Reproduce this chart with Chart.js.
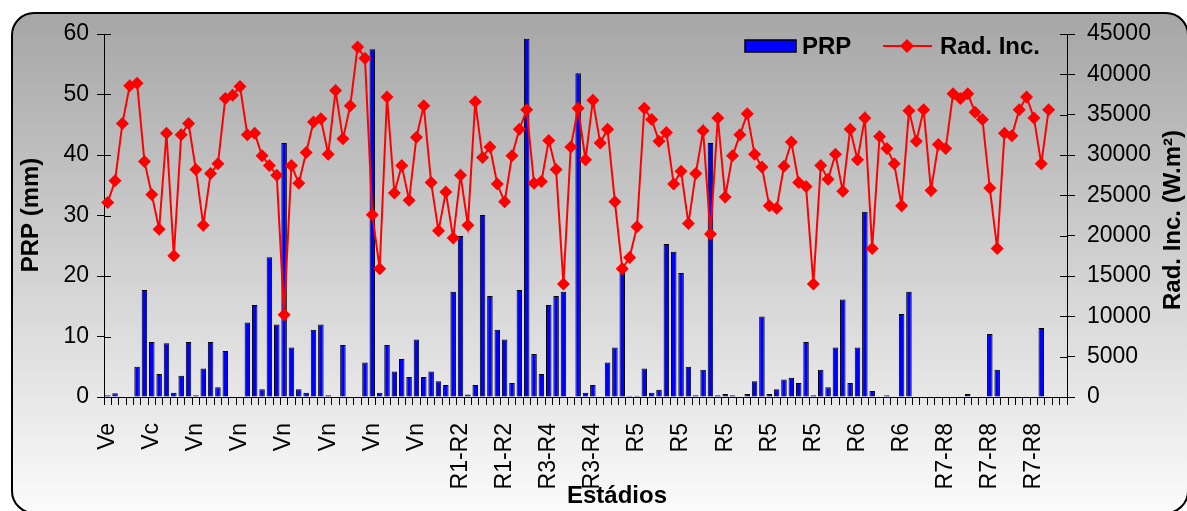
<!DOCTYPE html>
<html>
<head>
<meta charset="utf-8">
<script src="https://cdn.jsdelivr.net/npm/chart.js@4.4.1/dist/chart.umd.min.js"></script>
<style>
    html, body { margin: 0; padding: 0; background: #fff; }
    #wrap { width: 1187px; height: 511px; }
</style>
</head>
<body>
<div id="wrap"><canvas id="prp-chart" width="1187" height="511"></canvas></div>
<script>
// Stage names shown every 6th day on the category axis
const stageTicks = ['Ve', 'Vc', 'Vn', 'Vn', 'Vn', 'Vn', 'Vn', 'Vn', 'R1-R2', 'R1-R2', 'R3-R4', 'R3-R4',
    'R5', 'R5', 'R5', 'R5', 'R5', 'R6', 'R6', 'R7-R8', 'R7-R8', 'R7-R8'];
const dayCount = 131;
const tickEvery = 6;

// Precipitation (mm)
const prp = [
    0.3, 0.6, 0, 0, 5.0, 17.7, 9.1, 3.8, 8.9, 0.7,
    3.5, 9.1, 0.3, 4.7, 9.1, 1.6, 7.6, 0, 0, 12.3,
    15.2, 1.3, 23.1, 12.0, 42.0, 8.2, 1.3, 0.7, 11.1, 12.0,
    0.3, 0, 8.6, 0, 0, 5.7, 57.5, 0.7, 8.6, 4.2,
    6.3, 3.3, 9.5, 3.3, 4.2, 2.6, 2.0, 17.4, 26.6, 0.4,
    2.0, 30.1, 16.7, 11.1, 9.5, 2.3, 17.7, 59.2, 7.1, 3.8,
    15.2, 16.7, 17.4, 0, 53.5, 0.7, 2.0, 0, 5.7, 8.2,
    21.0, 0.2, 0.2, 4.7, 0.7, 1.2, 25.3, 24.0, 20.5, 5.0,
    0.3, 4.5, 42.0, 0.3, 0.5, 0.3, 0, 0.5, 2.6, 13.3,
    0.5, 1.3, 2.9, 3.2, 2.3, 9.1, 0.3, 4.5, 1.6, 8.2,
    16.1, 2.3, 8.2, 30.6, 1.0, 0, 0.3, 0, 13.7, 17.4,
    0, 0, 0, 0, 0, 0, 0, 0.5, 0, 0,
    10.4, 4.5, 0, 0, 0, 0, 0, 11.4, 0
];

// Incident radiation (W.m2)
const radInc = [
    24100, 26800, 33900, 38600, 38900, 29200, 25100, 20800, 32700, 17500,
    32500, 33900, 28200, 21300, 27700, 28900, 37000, 37400, 38500, 32500,
    32700, 29900, 28700, 27500, 10200, 28700, 26500, 30300, 34100, 34500,
    30100, 38000, 32000, 36100, 43400, 42000, 22600, 15900, 37200, 25300,
    28700, 24400, 32200, 36100, 26600, 20600, 25400, 19700, 27500, 21300,
    36600, 29700, 31000, 26400, 24200, 29900, 33200, 35600, 26500, 26700,
    31800, 28200, 14000, 31000, 35800, 29400, 36800, 31500, 33200, 24200,
    15900, 17300, 21100, 35800, 34400, 31700, 32800, 26400, 28000, 21500,
    27700, 33000, 20200, 34600, 24800, 29900, 32500, 35100, 30100, 28500,
    23700, 23400, 28600, 31600, 26600, 26100, 14000, 28700, 27000, 30100,
    25500, 33200, 29400, 34600, 18400, 32300, 30800, 28900, 23700, 35500,
    31700, 35600, 25600, 31300, 30800, 37600, 37000, 37600, 35300, 34400,
    25900, 18400, 32700, 32400, 35600, 37200, 34600, 28900, 35600
];

const FONT = "'Liberation Sans', Arial, sans-serif";

const days = [];
for (let i = 0; i < dayCount; i++) {
    days.push(i % tickEvery === 0 ? stageTicks[i / tickEvery] : '');
}

// rounded frame with the grey fade behind everything
const framePlugin = {
    id: 'frame',
    beforeDraw(chart) {
        const ctx = chart.ctx;
        ctx.save();
        ctx.fillStyle = '#ffffff';
        ctx.fillRect(0, 0, chart.width, chart.height);
        const x = 12, y = 13, w = 1176, h = 500, r = 22;
        const grad = ctx.createLinearGradient(0, y, 0, y + h);
        grad.addColorStop(0, '#a6a6a6');
        grad.addColorStop(1, '#fbfbfb');
        ctx.beginPath();
        ctx.moveTo(x + r, y);
        ctx.lineTo(x + w - r, y);
        ctx.arcTo(x + w, y, x + w, y + r, r);
        ctx.lineTo(x + w, y + h - r);
        ctx.arcTo(x + w, y + h, x + w - r, y + h, r);
        ctx.lineTo(x + r, y + h);
        ctx.arcTo(x, y + h, x, y + h - r, r);
        ctx.lineTo(x, y + r);
        ctx.arcTo(x, y, x + r, y, r);
        ctx.closePath();
        ctx.fillStyle = grad;
        ctx.fill();
        ctx.lineWidth = 2;
        ctx.strokeStyle = '#000';
        ctx.stroke();
        ctx.restore();
    }
};

// axis titles, inner tick marks and the legend
const decorPlugin = {
    id: 'decor',
    afterDatasetsDraw(chart) {
        const ctx = chart.ctx;
        const area = chart.chartArea;
        ctx.save();
        ctx.strokeStyle = '#000';
        ctx.lineWidth = 1;
        chart.scales.y.ticks.forEach((t, i) => {
            const py = Math.round(chart.scales.y.getPixelForTick(i)) + 0.5;
            ctx.beginPath();
            ctx.moveTo(area.left, py);
            ctx.lineTo(area.left + 7, py);
            ctx.stroke();
        });
        chart.scales.y1.ticks.forEach((t, i) => {
            const py = Math.round(chart.scales.y1.getPixelForTick(i)) + 0.5;
            ctx.beginPath();
            ctx.moveTo(area.right - 7, py);
            ctx.lineTo(area.right, py);
            ctx.stroke();
        });

        ctx.fillStyle = '#000';
        ctx.font = 'bold 24px ' + FONT;
        ctx.textAlign = 'center';
        ctx.textBaseline = 'middle';
        ctx.fillText('Estádios', 617, 496);

        ctx.save();
        ctx.translate(31, 215);
        ctx.rotate(-Math.PI / 2);
        ctx.fillText('PRP (mm)', 0, 0);
        ctx.restore();

        ctx.save();
        ctx.translate(1173, 220);
        ctx.rotate(-Math.PI / 2);
        ctx.fillText('Rad. Inc. (W.m²)', 0, 0);
        ctx.restore();

        // legend
        ctx.fillStyle = '#0000ff';
        ctx.fillRect(745, 40, 51, 12);
        ctx.lineWidth = 1.5;
        ctx.strokeRect(745, 40, 51, 12);
        ctx.fillStyle = '#000';
        ctx.textAlign = 'left';
        ctx.fillText('PRP', 802, 47);

        ctx.strokeStyle = '#ff0000';
        ctx.lineWidth = 2;
        ctx.beginPath();
        ctx.moveTo(883, 46);
        ctx.lineTo(932, 46);
        ctx.stroke();
        ctx.fillStyle = '#ff0000';
        ctx.beginPath();
        ctx.moveTo(907, 39);
        ctx.lineTo(914, 46);
        ctx.lineTo(907, 53);
        ctx.lineTo(900, 46);
        ctx.closePath();
        ctx.fill();
        ctx.fillStyle = '#000';
        ctx.fillText('Rad. Inc.', 940, 47);
        ctx.restore();
    }
};

const ctx = document.getElementById('prp-chart').getContext('2d');

new Chart(ctx, {
    data: {
        labels: days,
        datasets: [{
            type: 'line',
            label: 'Rad. Inc.',
            data: radInc,
            yAxisID: 'y1',
            borderColor: '#ff0000',
            borderWidth: 2,
            backgroundColor: '#ff0000',
            pointStyle: 'rectRot',
            pointRadius: 6.5,
            pointBorderWidth: 0,
            tension: 0,
            order: 0
        }, {
            type: 'bar',
            label: 'PRP',
            data: prp,
            yAxisID: 'y',
            backgroundColor: '#0000ff',
            borderColor: '#000000',
            borderWidth: 1,
            barPercentage: 0.75,
            categoryPercentage: 1,
            order: 1
        }]
    },
    options: {
        responsive: false,
        animation: false,
        layout: {
            padding: { top: 34, left: 0, right: 0, bottom: 0 }
        },
        plugins: {
            legend: { display: false },
            tooltip: { enabled: false }
        },
        scales: {
            x: {
                type: 'category',
                offset: true,
                afterFit: (scale) => { scale.height = 114; },
                grid: {
                    display: true,
                    drawOnChartArea: false,
                    offset: true,
                    tickLength: 8,
                    color: '#000'
                },
                border: { display: true, color: '#000', width: 1 },
                ticks: {
                    autoSkip: false,
                    maxRotation: 90,
                    minRotation: 90,
                    padding: 18,
                    color: '#000',
                    font: { size: 23, family: FONT }
                }
            },
            y: {
                position: 'left',
                min: 0,
                max: 60,
                afterFit: (scale) => { scale.width = 104; },
                grid: {
                    drawOnChartArea: false,
                    tickLength: 7,
                    color: '#000'
                },
                border: { display: true, color: '#000', width: 1 },
                ticks: {
                    stepSize: 10,
                    padding: 8,
                    color: '#000',
                    font: { size: 23, family: FONT }
                }
            },
            y1: {
                position: 'right',
                min: 0,
                max: 45000,
                afterFit: (scale) => { scale.width = 120; },
                grid: {
                    drawOnChartArea: false,
                    tickLength: 8,
                    color: '#000'
                },
                border: { display: true, color: '#000', width: 1 },
                ticks: {
                    stepSize: 5000,
                    padding: 12,
                    color: '#000',
                    font: { size: 23, family: FONT },
                    callback: (value) => String(value)
                }
            }
        }
    },
    plugins: [framePlugin, decorPlugin]
});
</script>
</body>
</html>
